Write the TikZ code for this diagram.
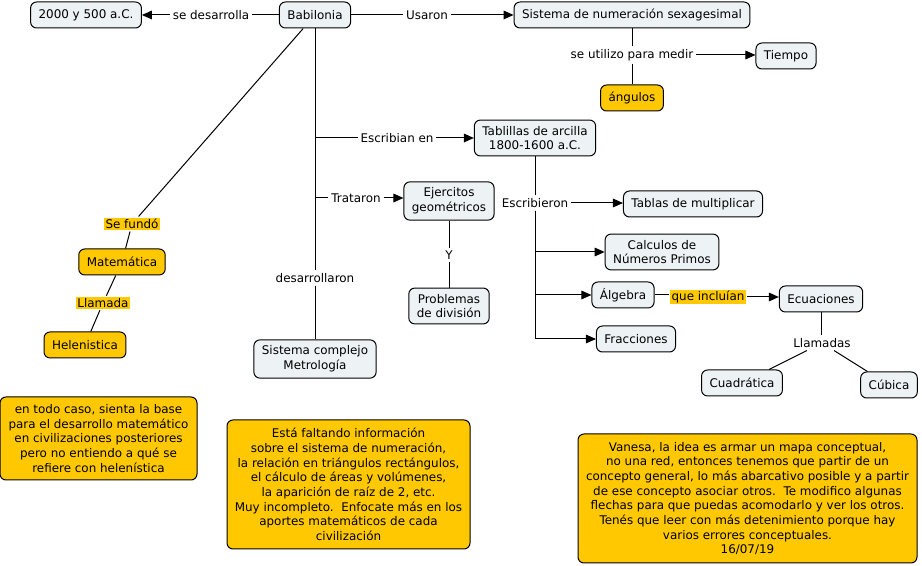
\documentclass[tikz,border=0pt]{standalone}
\usepackage{fontspec}
\setmainfont{DejaVu Sans}
\usetikzlibrary{arrows.meta,positioning}
\definecolor{conceptfill}{RGB}{237,242,245}
\definecolor{mapyellow}{RGB}{255,200,0}
\tikzset{
  concept/.style={draw, rounded corners=4.5pt, fill=conceptfill, align=center, inner xsep=6pt, inner ysep=4.5pt, minimum height=19.5pt, line width=0.75pt},
  yconcept/.style={concept, fill=mapyellow},
  note/.style={draw, rounded corners=4.5pt, fill=mapyellow, align=center, inner sep=3pt, line width=0.75pt},
  phrase/.style={inner sep=2pt},
  yphrase/.style={fill=mapyellow, inner sep=1pt, outer sep=1pt},
  link/.style={line width=0.75pt},
  arrowlink/.style={link, -{Triangle[length=7.5pt,width=6.5pt]}}
}

\begin{document}
\begin{tikzpicture}[x=0.75pt,y=-0.75pt,font=\fontsize{8.95}{11}\selectfont]
\useasboundingbox (0,0) rectangle (922,566);
% concepts
\node[concept] (fecha) at (86,15) {2000 y 500 a.C.};
\node[concept] (babilonia) at (315,15) {Babilonia};
\node[concept] (sexagesimal) at (632,15) {Sistema de numeración sexagesimal};
\node[concept] (tiempo) at (786,56) {Tiempo};
\node[yconcept] (angulos) at (632,98) {ángulos};
\node[concept] (tablillas) at (535,138) {Tablillas de arcilla\\1800-1600 a.C.};
\node[concept] (ejercitos) at (449,201) {Ejercitos\\geométricos};
\node[concept] (problemas) at (449,306) {Problemas\\de división};
\node[concept] (tablas) at (693,204) {Tablas de multiplicar};
\node[concept] (primos) at (662,252) {Calculos de\\Números Primos};
\node[concept] (algebra) at (623,295) {Álgebra};
\node[concept] (ecuaciones) at (821,299) {Ecuaciones};
\node[concept] (fracciones) at (636,339) {Fracciones};
\node[concept] (cuadratica) at (742,383) {Cuadrática};
\node[concept] (cubica) at (889,385) {Cúbica};
\node[concept] (metrologia) at (315,359) {Sistema complejo\\Metrología};
\node[yconcept] (matematica) at (122,262) {Matemática};
\node[yconcept] (helenistica) at (85,345) {Helenistica};

% linking phrases
\node[phrase] (desarrolla) at (211,15) {se desarrolla};
\node[phrase] (usaron) at (427,15) {Usaron};
\node[phrase] (medir) at (632,55) {se utilizo para medir};
\node[phrase] (escribian) at (397,138) {Escribian en};
\node[phrase] (trataron) at (356,198) {Trataron};
\node[phrase] (desarrollaron) at (315,278) {desarrollaron};
\node[phrase] (escribieron) at (535,203) {Escribieron};
\node[phrase] (y) at (449,255) {Y};
\node[yphrase] (incluian) at (708,297) {que incluían};
\node[phrase] (llamadas) at (822,343) {Llamadas};
\node[yphrase] (fundo) at (132,224) {Se fundó};
\node[yphrase] (llamada) at (103,303) {Llamada};

% notes
\node[note, minimum width=147.75pt, minimum height=62.25pt] (nota1) at (98.5,438.5)
  {en todo caso, sienta la base\\para el desarrollo matemático\\en civilizaciones posteriores\\pero no entiendo a qué se\\refiere con helenística};
\node[note, minimum width=182.25pt, minimum height=96.75pt] (nota2) at (348.5,484.5)
  {Está faltando información\\sobre el sistema de numeración,\\la relación en triángulos rectángulos,\\el cálculo de áreas y volúmenes,\\la aparición de raíz de 2, etc.\\Muy incompleto.\ \ Enfocate más en los\\aportes matemáticos de cada\\civilización};
\node[note, minimum width=254.25pt, minimum height=96.75pt] (nota3) at (747.5,498.5)
  {Vanesa, la idea es armar un mapa conceptual,\\no una red, entonces tenemos que partir de un\\concepto general, lo más abarcativo posible y a partir\\de ese concepto asociar otros.\ \ Te modifico algunas\\flechas para que puedas acomodarlo y ver los otros.\\Tenés que leer con más detenimiento porque hay\\varios errores conceptuales.\\16/07/19};

% connectors
\draw[link] (babilonia.west) -- (desarrolla.east);
\draw[arrowlink] (desarrolla.west) -- (fecha.east);
\draw[link] (babilonia.east) -- (usaron.west);
\draw[arrowlink] (usaron.east) -- (sexagesimal.west);
\draw[link] (sexagesimal.south) -- (medir.north);
\draw[link] (medir.south) -- (angulos.north);
\draw[arrowlink] (medir.east) -- (medir.east -| tiempo.west);
\draw[link] (babilonia.south) -- (desarrollaron.north);
\draw[link] (desarrollaron.south) -- (metrologia.north);
\draw[link] (babilonia.south) |- (escribian.west);
\draw[link] (babilonia.south) |- (trataron.west);
\draw[arrowlink] (escribian.east) -- (escribian.east -| tablillas.west);
\draw[arrowlink] (trataron.east) -- (trataron.east -| ejercitos.west);
\draw[link] (ejercitos.south) -- (y.north);
\draw[link] (y.south) -- (problemas.north);
\draw[link] (tablillas.south) -- (escribieron.north);
\draw[arrowlink] (escribieron.east) -- (escribieron.east -| tablas.west);
\draw[arrowlink] (escribieron.south) |- (primos.west);
\draw[arrowlink] (escribieron.south) |- (algebra.west);
\draw[arrowlink] (escribieron.south) |- (fracciones.west);
\draw[link] (algebra.east) -- (algebra.east -| incluian.west);
\draw[arrowlink] (incluian.east) -- (incluian.east -| ecuaciones.west);
\draw[link] (ecuaciones.south) -- (ecuaciones.south |- llamadas.north);
\draw[link] (llamadas) -- (cuadratica);
\draw[link] (llamadas) -- (cubica);
\draw[link] (babilonia) -- (fundo);
\draw[link] (fundo) -- (matematica);
\draw[link] (matematica) -- (llamada);
\draw[link] (llamada) -- (helenistica);
\end{tikzpicture}
\end{document}
